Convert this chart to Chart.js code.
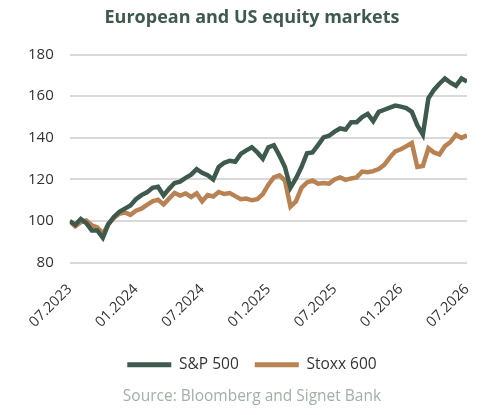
<!DOCTYPE html>
<html>
<head>
<meta charset="utf-8">
<script src="https://cdn.jsdelivr.net/npm/chart.js@4"></script>
<style>
  html, body { margin: 0; padding: 0; background: #fff; }
  #wrap { width: 504px; height: 415px; }
</style>
</head>
<body>
<div id="wrap"><canvas id="equity-chart"></canvas></div>
<script>
// months since 07.2023, half-month steps
var months = [];
for (var i = 0; i <= 72; i++) months.push(i / 2);

var tickLabels = ["07.2023", "01.2024", "07.2024", "01.2025", "07.2025", "01.2026", "07.2026"];

var sp500 = [
  100, 98.2, 101, 99, 95.5, 95.5, 92, 98.5, 102, 104.5,
  106, 107.5, 110.5, 112.5, 113.8, 116, 116.5, 112.3, 115.5, 118.3,
  119, 120.8, 122.3, 125, 123.2, 122, 120, 126, 128, 129,
  128.5, 132.3, 134, 135.5, 133, 130, 135.5, 136.4, 131.5, 126,
  116, 120.5, 126, 132.6, 133, 136.5, 140.2, 141, 143, 144.5,
  144, 147.5, 147.5, 150, 151.5, 148, 152.5, 153.5, 154.5, 155.5,
  155, 154.3, 152.5, 146, 141.5, 159, 163, 166, 168.5, 166.5,
  165, 168.5, 167
];

var stoxx600 = [
  100, 97.5, 99.5, 100.3, 98, 97, 94, 98.5, 101.5, 103.5,
  104.2, 103, 105, 106, 107.8, 109.5, 110.3, 108, 110.8, 113.5,
  112.3, 113.3, 111.6, 113.3, 109.5, 112.5, 111.8, 114, 113, 113.5,
  112, 110.5, 110.8, 110, 110.5, 113, 117.5, 121, 122, 119.5,
  107, 109.5, 116, 118.6, 119.5, 118, 118.3, 118, 120, 121,
  119.8, 120.5, 121, 123.8, 123.5, 124, 125, 127, 130.5, 133.5,
  134.5, 136, 137.5, 126, 126.5, 135, 133, 132, 136, 138,
  141.5, 140, 141.3
];

function points(values) {
  return values.map(function (v, i) { return { x: months[i], y: v }; });
}

// title, legend and source are centred on the whole canvas, not the padded area
var centreBoxes = {
  id: 'centreBoxes',
  afterLayout: function (chart) {
    chart.boxes.forEach(function (box) {
      if (box.axis) return;
      if (box.position === 'top' || box.position === 'bottom') {
        box.left = 0;
        box.right = chart.width;
        box.width = chart.width;
      }
    });
  }
};

new Chart(document.getElementById("equity-chart"), {
  type: 'line',
  data: {
    datasets: [{
      label: "S&P 500",
      data: points(sp500),
      borderColor: "#3e5a4c",
      backgroundColor: "#3e5a4c",
      borderWidth: 4.5,
      pointRadius: 0,
      tension: 0
    }, {
      label: "Stoxx 600",
      data: points(stoxx600),
      borderColor: "#b98253",
      backgroundColor: "#b98253",
      borderWidth: 4.5,
      pointRadius: 0,
      tension: 0
    }]
  },
  plugins: [centreBoxes],
  options: {
    responsive: true,
    maintainAspectRatio: false,
    animation: false,
    layout: { padding: { left: 12, right: 37, top: 4, bottom: 5 } },
    scales: {
      x: {
        type: 'linear',
        min: 0,
        max: 36,
        border: { display: false },
        grid: { display: false },
        ticks: {
          stepSize: 6,
          maxRotation: 45,
          minRotation: 45,
          autoSkip: false,
          padding: 10,
          color: "#333",
          font: { family: "Open Sans", size: 14.5 },
          callback: function (v) { return tickLabels[v / 6]; }
        }
      },
      y: {
        min: 80,
        max: 180,
        border: { display: false },
        grid: { color: "#d9d9d9", lineWidth: 2, drawTicks: false },
        ticks: {
          stepSize: 20,
          padding: 16,
          color: "#333",
          font: { family: "Open Sans", size: 15 }
        }
      }
    },
    plugins: {
      title: {
        display: true,
        text: "European and US equity markets",
        color: "#3e5a4c",
        font: { family: "Open Sans", size: 18, weight: 'bold' },
        padding: { top: 3, bottom: 26 }
      },
      legend: {
        position: 'bottom',
        labels: {
          boxWidth: 44,
          boxHeight: 0,
          padding: 16,
          color: "#333",
          font: { family: "Open Sans", size: 15.5 },
          generateLabels: function (chart) {
            return chart.data.datasets.map(function (ds, i) {
              return {
                text: ds.label,
                strokeStyle: ds.borderColor,
                fillStyle: ds.borderColor,
                lineWidth: 5,
                lineCap: 'round',
                datasetIndex: i,
                fontColor: "#333"
              };
            });
          }
        }
      },
      subtitle: {
        display: true,
        position: 'bottom',
        text: "Source: Bloomberg and Signet Bank",
        color: "#9fb0a6",
        font: { family: "Open Sans", size: 15.5 },
        padding: { top: 5, bottom: 4 }
      },
      tooltip: { enabled: false }
    }
  }
});
</script>
</body>
</html>
